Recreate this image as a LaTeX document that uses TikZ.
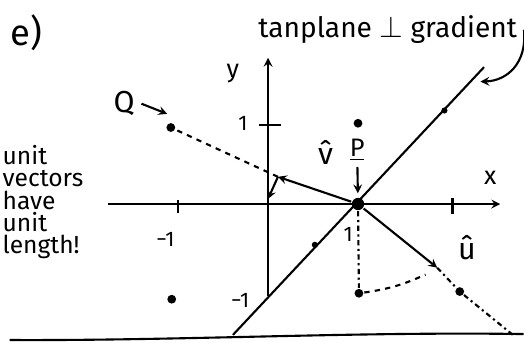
\documentclass[tikz,border=0pt]{standalone}
\usepackage{fontspec}
\setmainfont{Fira Sans}

\begin{document}
\begin{tikzpicture}[x=1.8cm, y=1.7cm, line width=1.2pt,
        punto/.style={circle, fill, inner sep=0pt, minimum size=5pt},
        marca/.style={circle, fill, inner sep=0pt, minimum size=3.5pt},
        rotulo/.style={inner sep=1pt, font=\Large}]
        \useasboundingbox (-2.978,-1.624) rectangle (2.844,2.4);

        % Apartado
        \node[font=\huge] (apartado) at (-2.68,2.02) {e)};

        % Ejes coordenados
        \coordinate (xizq) at (-1.78,0);
        \coordinate (xder) at (2.58,0);
        \coordinate (yaba) at (0,-1.08);
        \coordinate (yarr) at (0,1.72);
        \draw[-stealth] (xizq) -- (xder);
        \draw[-stealth] (yaba) -- (yarr);
        \node[rotulo] (xlab) at (2.47,0.31) {x};
        \node[rotulo] (ylab) at (-0.39,1.53) {y};

        % Marcas de los ejes
        \draw (-1,0.05) -- (-1,-0.1);
        \draw (2.05,0.07) -- (2.05,-0.12);
        \draw (-0.1,0.93) -- (0.14,0.93);
        \node[font=\large] (unoy) at (-0.28,0.95) {1};
        \node[font=\large] (menosx) at (-1.14,-0.42) {−1};
        \node[font=\large] (menosy) at (-0.31,-1.13) {−1};

        % Puntos de la reticula
        \node[punto] (Q) at (-1.08,0.9) {};
        \node[punto] (A) at (1,0.95) {};
        \node[punto] (B) at (-1.07,-1.12) {};
        \node[punto] (C) at (1.01,-1.05) {};
        \node[punto, minimum size=7pt] (P) at (1,0) {};

        % Plano tangente
        \coordinate (tanaba) at (-0.39,-1.54);
        \coordinate (tanarr) at (2.4,1.61);
        \draw (tanaba) -- (tanarr);
        \node[marca] (m1) at (0.52,-0.48) {};
        \node[marca] (m2) at (1.96,1.1) {};

        % Vector v (hacia Q)
        \coordinate (vpunta) at (0.11,0.32);
        \coordinate (vbaja) at (0,0.06);
        \draw[-stealth] (P) -- (vpunta);
        \draw[dashed] (vpunta) -- (Q);
        \draw[-stealth] (vpunta) -- (vbaja);
        \node[font=\LARGE] (vlab) at (0.64,0.61) {\^{v}};

        % Vector u
        \coordinate (upunta) at (1.88,-0.75);
        \coordinate (ufin) at (2.72,-1.54);
        \node[punto] (E) at (2.13,-1.03) {};
        \draw[-stealth] (P) -- (upunta);
        \draw[dash dot] (upunta) -- (E) -- (ufin);
        \node[font=\LARGE] (ulab) at (2.21,-0.51) {û};

        % Longitud unidad
        \coordinate (uarco) at (1.75,-0.83);
        \draw[dash dot] (P) -- (C);
        \draw[dashed] (C) to[bend right=8] (uarco);
        \node[font=\large] (unolab) at (0.89,-0.36) {1};

        % Etiquetas P y Q
        \node[font=\Large] (Plab) at (0.99,0.64) {\underline{P}};
        \draw[-stealth, shorten >=2pt] (Plab) -- (P);
        \node[font=\LARGE] (Qlab) at (-1.6,1.18) {Q};
        \coordinate (Qflecha) at (-1.12,1.06);
        \draw[-stealth] (Qlab.east) -- (Qflecha);

        % Leyendas
        \node[font=\fontsize{16}{18}\selectfont] (tanlab) at (1.33,2.05) {tanplane $\perp$ gradient};
        \coordinate (tanobj) at (2.36,1.44);
        \draw[-stealth] (tanlab.east) .. controls (2.88,1.65) and (2.65,1.45) .. (tanobj);
        \node[align=left, anchor=north west, inner sep=0pt,
              font=\fontsize{14}{12.6}\selectfont] (nota) at (-2.96,0.7)
              {unit\\vectors\\have\\unit\\length!};

        % Linea inferior
        \draw (-2.87,-1.6) .. controls (-1,-1.61) and (1,-1.5) .. (2.84,-1.53);

    \end{tikzpicture}
\end{document}
